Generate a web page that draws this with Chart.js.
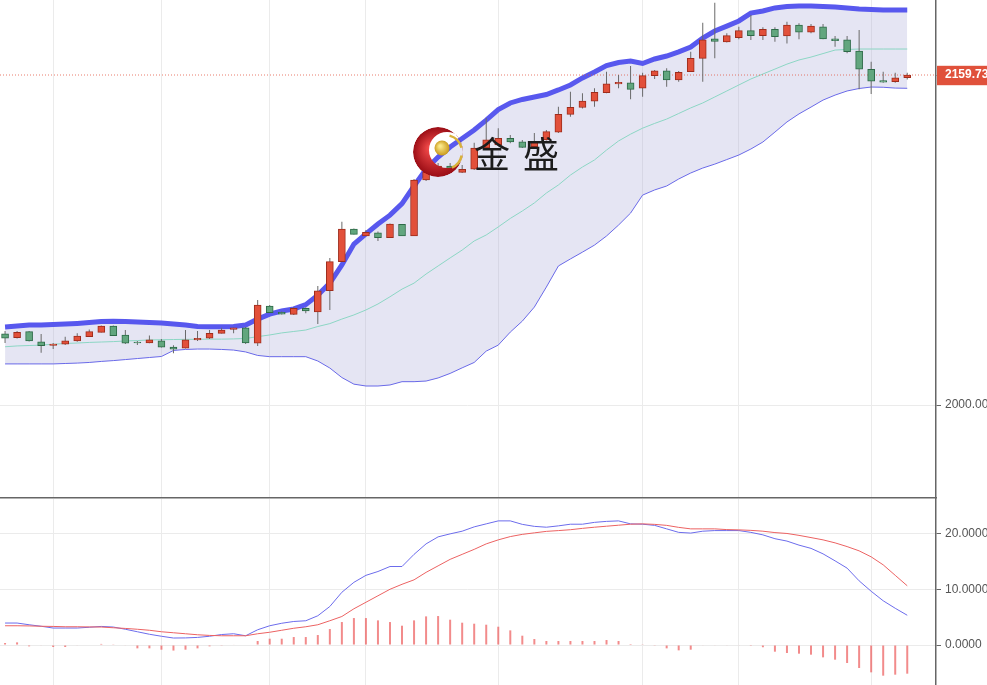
<!DOCTYPE html>
<html lang="zh-CN">
<head>
<meta charset="UTF-8">
<title>K线 BOLL MACD</title>
<script src="https://cdn.jsdelivr.net/npm/chart.js@4"></script>
<style>
  body { margin: 0; background: #fff; }
  #top { position: absolute; left: 0; top: 0; width: 987px; height: 499px; }
  #bottom { position: absolute; left: 0; top: 499px; width: 987px; height: 186px; }
</style>
</head>
<body>
<div id="top"><canvas id="kline"></canvas></div>
<div id="bottom"><canvas id="macd"></canvas></div>
<script>
// K线数据 (76 根)
var open = [
  2034.4, 2032.6, 2035.5, 2030.6, 2028.9, 2029.4, 2031.0, 2033.1, 2035.2, 2038.2,
  2033.9, 2030.5, 2030.0, 2031.1, 2028.1, 2027.5, 2031.5, 2032.3, 2034.7, 2036.6,
  2037.4, 2029.9, 2047.9, 2044.9, 2043.9, 2046.8, 2045.1, 2055.3, 2069.4, 2085.2,
  2081.9, 2083.4, 2081.0, 2087.5, 2081.9, 2108.9, 2112.8, 2115.7, 2112.6, 2114.1,
  2124.4, 2125.9, 2129.1, 2127.4, 2125.0, 2128.3, 2132.0, 2140.7, 2144.0, 2147.1,
  2151.2, 2155.4, 2156.0, 2153.3, 2159.4, 2161.7, 2157.3, 2161.3, 2167.8, 2177.2,
  2175.8, 2177.8, 2181.2, 2178.8, 2181.8, 2178.6, 2183.9, 2180.4, 2183.1, 2177.2,
  2176.7, 2171.3, 2162.5, 2157.0, 2156.5, 2158.4
];
var high = [
  2035.8, 2035.8, 2035.8, 2034.4, 2030.0, 2033.1, 2034.7, 2036.6, 2038.5, 2038.5,
  2036.3, 2031.0, 2033.6, 2031.9, 2028.9, 2036.3, 2035.8, 2036.3, 2037.4, 2037.5,
  2037.8, 2050.8, 2048.4, 2045.3, 2047.4, 2047.3, 2057.6, 2071.2, 2088.7, 2085.4,
  2084.7, 2084.0, 2087.8, 2087.6, 2109.4, 2113.7, 2117.1, 2117.1, 2116.2, 2127.0,
  2138.9, 2133.9, 2130.7, 2128.3, 2131.6, 2133.1, 2144.4, 2151.6, 2150.9, 2153.3,
  2161.3, 2159.7, 2164.1, 2160.8, 2162.1, 2163.0, 2161.7, 2171.0, 2185.0, 2194.7,
  2179.9, 2183.1, 2188.8, 2182.8, 2182.8, 2185.5, 2184.8, 2184.4, 2184.4, 2178.6,
  2178.6, 2181.5, 2166.2, 2161.3, 2160.8, 2160.8
];
var low = [
  2030.0, 2032.2, 2030.7, 2025.3, 2027.1, 2029.0, 2030.6, 2032.9, 2035.1, 2033.4,
  2029.5, 2029.0, 2029.9, 2027.8, 2025.0, 2027.4, 2031.0, 2031.9, 2034.6, 2034.7,
  2029.5, 2028.6, 2044.5, 2043.8, 2043.6, 2044.4, 2039.2, 2046.0, 2069.2, 2082.5,
  2081.8, 2079.4, 2080.8, 2081.8, 2081.8, 2108.4, 2112.3, 2112.3, 2112.3, 2113.7,
  2124.1, 2125.4, 2126.7, 2124.4, 2124.9, 2128.0, 2131.6, 2139.5, 2143.5, 2144.4,
  2150.9, 2153.3, 2148.0, 2149.2, 2157.8, 2154.1, 2156.5, 2161.2, 2156.5, 2167.8,
  2175.4, 2177.0, 2176.7, 2176.7, 2175.8, 2175.0, 2177.0, 2179.9, 2177.0, 2173.4,
  2170.2, 2152.8, 2150.5, 2156.0, 2156.0, 2157.6
];
var close = [
  2032.4, 2035.2, 2031.0, 2028.7, 2029.5, 2031.1, 2033.4, 2035.5, 2038.2, 2033.6,
  2029.9, 2030.0, 2031.5, 2028.0, 2027.0, 2031.5, 2032.3, 2034.7, 2036.3, 2037.4,
  2030.0, 2048.4, 2044.7, 2044.0, 2046.8, 2045.5, 2055.3, 2069.4, 2085.2, 2082.6,
  2083.6, 2081.0, 2087.6, 2081.9, 2108.9, 2112.8, 2115.7, 2113.7, 2114.1, 2124.3,
  2128.3, 2129.1, 2127.4, 2124.7, 2127.4, 2132.3, 2140.7, 2144.1, 2147.1, 2151.3,
  2155.4, 2156.2, 2152.8, 2159.4, 2161.7, 2157.3, 2161.0, 2167.8, 2176.7, 2176.0,
  2178.8, 2181.2, 2178.8, 2181.8, 2178.3, 2183.9, 2180.4, 2183.4, 2177.2, 2176.3,
  2171.0, 2162.5, 2156.8, 2156.3, 2158.4, 2159.73
];

// 布林带
var bollUpper = [
  2037.8, 2038.2, 2038.7, 2038.7, 2039.0, 2039.2, 2039.5, 2039.9, 2040.4, 2040.6,
  2040.4, 2040.2, 2039.9, 2039.7, 2039.2, 2038.7, 2038.0, 2037.9, 2037.9, 2038.0,
  2038.7, 2041.6, 2044.0, 2045.5, 2046.5, 2048.6, 2053.2, 2059.0, 2067.8, 2077.9,
  2082.8, 2087.6, 2091.9, 2097.5, 2106.0, 2114.2, 2120.0, 2124.9, 2129.0, 2133.1,
  2137.9, 2143.0, 2146.2, 2147.9, 2149.1, 2150.3, 2152.5, 2154.9, 2158.3, 2161.2,
  2164.3, 2165.8, 2166.5, 2165.3, 2167.5, 2168.9, 2170.9, 2173.3, 2177.6, 2181.0,
  2183.4, 2185.9, 2189.7, 2190.7, 2192.2, 2192.9, 2193.1, 2193.1, 2192.9, 2192.6,
  2192.2, 2191.7, 2191.4, 2191.2, 2191.2, 2191.2
];
var bollMid = [
  2028.2, 2028.6, 2028.8, 2029.0, 2029.4, 2029.8, 2030.0, 2030.3, 2030.5, 2030.7,
  2031.0, 2031.2, 2031.5, 2031.6, 2031.7, 2031.8, 2031.8, 2031.9, 2031.9, 2032.0,
  2032.2, 2033.1, 2033.9, 2034.9, 2035.6, 2036.3, 2038.0, 2039.4, 2041.6, 2043.6,
  2046.0, 2048.9, 2052.4, 2056.1, 2059.0, 2063.4, 2067.3, 2071.2, 2075.0, 2079.4,
  2082.3, 2086.2, 2090.3, 2093.9, 2097.8, 2102.6, 2106.5, 2111.3, 2115.2, 2118.6,
  2123.4, 2127.8, 2131.1, 2134.0, 2136.3, 2138.4, 2141.1, 2143.8, 2146.2, 2149.1,
  2152.0, 2154.9, 2157.8, 2160.2, 2162.6, 2165.0, 2167.0, 2168.4, 2170.1, 2171.8,
  2172.1, 2172.3, 2172.3, 2172.3, 2172.3, 2172.3
];
var bollLower = [
  2019.9, 2019.9, 2019.9, 2019.9, 2019.9, 2020.1, 2020.3, 2020.6, 2021.1, 2021.5,
  2022.0, 2022.5, 2023.0, 2023.5, 2026.4, 2026.9, 2027.1, 2027.1, 2026.9, 2026.6,
  2025.7, 2024.0, 2023.4, 2023.4, 2023.4, 2023.4, 2021.3, 2017.9, 2013.3, 2010.1,
  2009.2, 2009.2, 2009.7, 2011.3, 2011.3, 2011.6, 2013.1, 2015.3, 2018.0, 2020.6,
  2026.1, 2029.0, 2035.3, 2040.6, 2047.4, 2057.1, 2067.3, 2070.7, 2074.0, 2077.4,
  2081.8, 2087.1, 2092.9, 2101.6, 2104.1, 2106.0, 2109.4, 2112.3, 2114.7, 2116.6,
  2118.8, 2121.0, 2123.9, 2127.3, 2132.1, 2137.0, 2140.9, 2144.2, 2147.6, 2150.0,
  2152.0, 2153.2, 2153.9, 2153.8, 2153.4, 2153.3
];

// MACD
var dif = [
  3.96, 3.96, 3.65, 3.38, 3.06, 3.06, 3.06, 3.20, 3.35, 3.24,
  2.84, 2.39, 1.94, 1.58, 1.26, 1.28, 1.37, 1.58, 1.89, 2.03,
  1.67, 2.75, 3.47, 3.92, 4.24, 4.37, 5.27, 6.94, 9.50, 11.29,
  12.55, 13.24, 14.14, 14.14, 16.33, 18.22, 19.48, 20.02, 20.50, 21.28,
  21.82, 22.36, 22.36, 21.73, 21.37, 21.22, 21.46, 21.76, 21.76, 22.09,
  22.27, 22.36, 21.82, 21.76, 21.55, 20.92, 20.29, 20.16, 20.50, 20.61,
  20.61, 20.61, 20.29, 19.84, 19.15, 18.72, 17.99, 17.41, 16.42, 15.16,
  13.85, 11.56, 9.68, 7.97, 6.62, 5.36
];
var dea = [
  3.47, 3.47, 3.44, 3.38, 3.35, 3.29, 3.29, 3.26, 3.24, 3.11,
  2.99, 2.84, 2.66, 2.39, 2.21, 2.03, 1.85, 1.73, 1.67, 1.67,
  1.67, 2.03, 2.30, 2.66, 3.02, 3.29, 3.65, 4.37, 5.14, 6.53,
  7.70, 8.87, 10.04, 10.94, 11.74, 13.09, 14.26, 15.43, 16.33, 17.23,
  18.22, 18.94, 19.53, 19.93, 20.20, 20.47, 20.61, 20.77, 21.01, 21.22,
  21.40, 21.58, 21.76, 21.82, 21.73, 21.55, 21.19, 20.92, 20.92, 20.92,
  20.79, 20.74, 20.65, 20.50, 20.25, 20.09, 19.75, 19.35, 18.94, 18.40,
  17.73, 16.96, 15.88, 14.44, 12.55, 10.67
];
var macdHist = [
  0.36, 0.48, -0.24, -0.1, -0.36, -0.36, -0.1, 0.0, 0.2, 0.05,
  -0.1, -0.6, -0.6, -0.84, -1.0, -0.84, -0.6, -0.24, -0.05, 0.1,
  0.0, 0.72, 1.14, 1.14, 1.44, 1.44, 1.8, 2.88, 4.14, 4.86,
  4.86, 4.44, 4.14, 3.48, 4.44, 5.16, 5.22, 4.56, 4.02, 3.84,
  3.66, 3.30, 2.64, 1.68, 1.08, 0.72, 0.72, 0.72, 0.72, 0.72,
  0.9, 0.72, 0.18, 0.05, -0.05, -0.6, -0.96, -0.84, -0.1, -0.1,
  -0.1, -0.1, -0.15, -0.4, -1.2, -1.44, -1.56, -1.74, -2.22, -2.64,
  -3.24, -4.14, -4.92, -5.52, -5.34, -5.16
];

// 分隔线所在的K线序号, 刻度
var sessionStarts = [4, 13, 22, 30, 41, 53, 61, 72];
var priceTicks = [2000];
var macdTicks = [0, 10, 20];

var lastPrice = close[close.length - 1];
var xMin = -0.42, xMax = 77.39;

Chart.defaults.font.family = 'Arial, "Liberation Sans", sans-serif';
Chart.defaults.font.size = 12;

function pts(arr) {
  return arr.map(function(v, i) { return {x: i, y: v}; });
}
function isUp(i) { return close[i] >= open[i]; }

function xAxis(showBorder) {
  return {
    type: 'linear', min: xMin, max: xMax, offset: false,
    afterBuildTicks: function(s) {
      s.ticks = sessionStarts.map(function(v) { return {value: v}; });
    },
    afterFit: function(s) { s.height = showBorder ? 1 : 0; },
    ticks: {display: false},
    grid: {color: '#ebebeb', drawTicks: false, offset: false},
    border: {display: showBorder, color: '#666', width: 1.5}
  };
}

// 金盛 logo
var logoPlugin = {
  id: 'logo',
  afterDatasetsDraw: function(chart) {
    var c = chart.ctx;
    var cx = 438, cy = 152, r = 25;
    c.save();
    c.beginPath();
    c.arc(cx, cy, r, 0, Math.PI * 2);
    c.clip();
    var g = c.createRadialGradient(cx - 8, cy - 4, 2, cx, cy, r);
    g.addColorStop(0, '#f04848');
    g.addColorStop(1, '#9a0d15');
    c.fillStyle = g;
    c.beginPath();
    c.arc(cx, cy, r, 0, Math.PI * 2);
    c.moveTo(cx + 9 + 18, cy - 2);
    c.arc(cx + 9, cy - 2, 18, 0, Math.PI * 2);
    c.fill('evenodd');
    c.restore();

    c.save();
    c.strokeStyle = '#d9b23a';
    c.lineWidth = 2.5;
    c.beginPath();
    c.arc(cx + 7, cy, 17, -1.3, -0.25);
    c.stroke();
    c.beginPath();
    c.arc(cx + 7, cy, 17, 0.2, 1.15);
    c.stroke();
    var gb = c.createRadialGradient(cx + 2, cy - 6, 1, cx + 4, cy - 4, 8);
    gb.addColorStop(0, '#fbe98a');
    gb.addColorStop(1, '#c79616');
    c.fillStyle = gb;
    c.beginPath();
    c.arc(cx + 4, cy - 4, 7.5, 0, Math.PI * 2);
    c.fill();

    c.fillStyle = '#1c1c1c';
    c.font = '36px "Noto Sans CJK SC"';
    c.textBaseline = 'middle';
    c.fillText('金', 474, 154);
    c.fillText('盛', 523, 154);
    c.restore();
  }
};

var kChart = new Chart(document.getElementById('kline'), {
  type: 'bar',
  data: {
    datasets: [
      {
        type: 'line', data: pts(bollUpper), borderColor: 'rgb(88,88,238)', borderWidth: 5,
        pointRadius: 0, fill: '+1', backgroundColor: 'rgba(170,170,215,0.3)', order: 6
      },
      {
        type: 'line', data: pts(bollLower), borderColor: 'rgb(105,105,232)', borderWidth: 1,
        pointRadius: 0, fill: false, order: 5
      },
      {
        type: 'line', data: pts(bollMid), borderColor: 'rgb(140,214,196)', borderWidth: 1,
        pointRadius: 0, fill: false, order: 4
      },
      {
        type: 'line', data: [{x: xMin, y: lastPrice}, {x: xMax, y: lastPrice}],
        borderColor: 'rgba(226,80,60,0.75)', borderWidth: 1, borderDash: [1, 2],
        pointRadius: 0, fill: false, order: 3
      },
      {
        data: low.map(function(v, i) { return {x: i, y: [v, high[i]]}; }),
        backgroundColor: '#6a6a6a', barThickness: 1, inflateAmount: 0,
        grouped: false, order: 2
      },
      {
        data: open.map(function(v, i) { return {x: i, y: [v, close[i]]}; }),
        backgroundColor: function(ctx) { return isUp(ctx.dataIndex) ? '#e2503a' : '#62a67e'; },
        borderColor: function(ctx) { return isUp(ctx.dataIndex) ? '#9e2c1c' : '#2d6a47'; },
        borderWidth: 1, borderSkipped: false, barThickness: 7, minBarLength: 1,
        grouped: false, order: 1
      }
    ]
  },
  options: {
    responsive: true, maintainAspectRatio: false, animation: false, events: [],
    layout: {padding: 0},
    plugins: {legend: {display: false}, tooltip: {enabled: false}},
    scales: {
      x: xAxis(true),
      y: {
        type: 'linear', position: 'right', min: 1955.0, max: 2196.03,
        afterBuildTicks: function(s) {
          s.ticks = priceTicks.concat([lastPrice]).map(function(v) { return {value: v}; });
        },
        afterFit: function(s) { s.width = 51; s.paddingTop = 0; s.paddingBottom = 0; },
        ticks: {
          padding: 4,
          color: function(ctx) { return ctx.index === 1 ? '#fff' : '#555'; },
          font: function(ctx) { return {size: 12, weight: ctx.index === 1 ? 'bold' : 'normal'}; },
          showLabelBackdrop: function(ctx) { return ctx.index === 1; },
          backdropColor: '#e0513b',
          backdropPadding: {top: 2, bottom: 3, left: 8, right: 12},
          callback: function(v) { return Number(v).toFixed(2); }
        },
        grid: {
          color: function(ctx) { return ctx.index === 1 ? 'rgba(0,0,0,0)' : '#ebebeb'; },
          tickLength: 5, tickColor: '#666'
        },
        border: {color: '#666', width: 1.5}
      }
    }
  },
  plugins: [logoPlugin]
});

var mChart = new Chart(document.getElementById('macd'), {
  type: 'bar',
  data: {
    datasets: [
      {
        type: 'line', data: pts(dea), borderColor: 'rgb(236,98,98)', borderWidth: 1,
        pointRadius: 0, fill: false, order: 1
      },
      {
        type: 'line', data: pts(dif), borderColor: 'rgb(108,108,236)', borderWidth: 1,
        pointRadius: 0, fill: false, order: 2
      },
      {
        data: pts(macdHist), backgroundColor: 'rgba(236,90,90,0.7)',
        barThickness: 2, inflateAmount: 0, grouped: false, order: 3
      }
    ]
  },
  options: {
    responsive: true, maintainAspectRatio: false, animation: false, events: [],
    layout: {padding: 0},
    plugins: {legend: {display: false}, tooltip: {enabled: false}},
    scales: {
      x: xAxis(false),
      y: {
        type: 'linear', position: 'right', min: -7.2, max: 26.3,
        afterBuildTicks: function(s) {
          s.ticks = macdTicks.map(function(v) { return {value: v}; });
        },
        afterFit: function(s) { s.width = 51; s.paddingTop = 0; s.paddingBottom = 0; },
        ticks: {
          padding: 4, color: '#555',
          callback: function(v) { return Number(v).toFixed(4); }
        },
        grid: {color: '#ebebeb', tickLength: 5, tickColor: '#666'},
        border: {color: '#666', width: 1.5}
      }
    }
  }
});
</script>
</body>
</html>
